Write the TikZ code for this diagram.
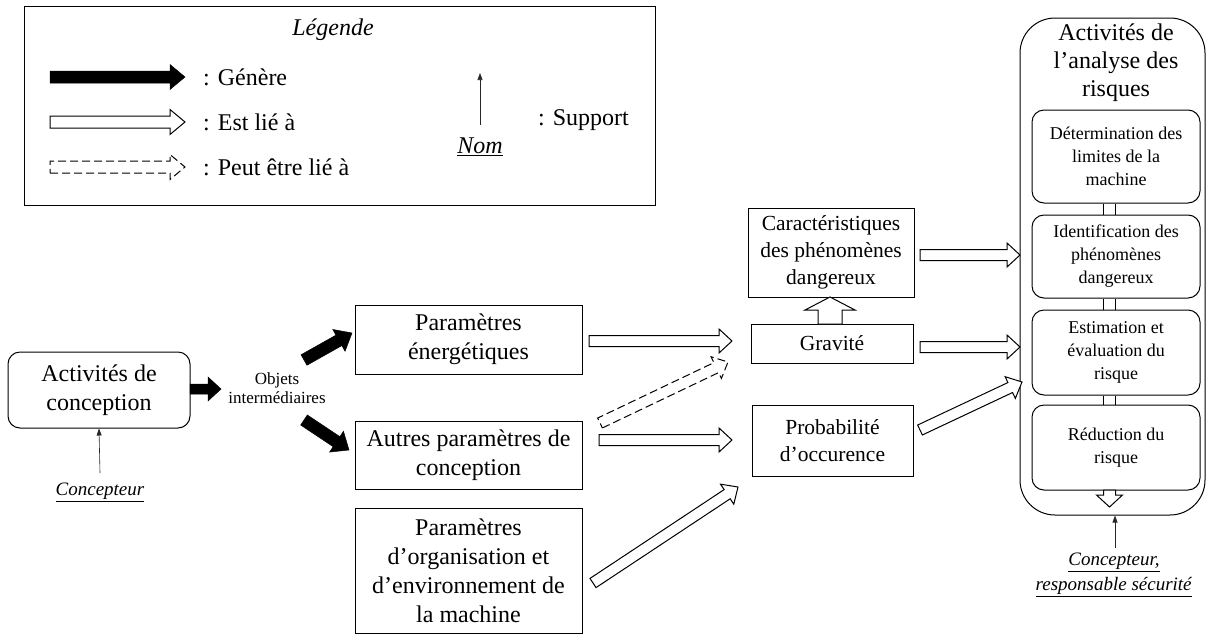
\documentclass[tikz,border=0pt]{standalone}
\usepackage{fontspec}
\setmainfont{Liberation Serif}
\usetikzlibrary{calc,arrows.meta}
\newcommand\fbig{\fontsize{24}{29}\selectfont}
\newcommand\ftitle{\fontsize{24}{28}\selectfont}
\newcommand\fmid{\fontsize{21.5}{27}\selectfont}
\newcommand\fsmall{\fontsize{18}{23}\selectfont}
\newcommand\flab{\fontsize{19}{25}\selectfont}
\newcommand\fobj{\fontsize{17}{19}\selectfont}
% block arrow: [style]{shaft half}{head half}{head length}{from}{to}
\newcommand\blockarrow[6][]{%
  \path (#5) coordinate (bas) (#6) coordinate (bae);
  \pgfpointdiff{\pgfpointanchor{bas}{center}}{\pgfpointanchor{bae}{center}}%
  \pgfgetlastxy\bax\bay
  \pgfmathsetmacro\baang{atan2(\bay,\bax)}%
  \pgfmathsetmacro\balen{veclen(\bax,\bay)}%
  \pgfmathsetmacro\babase{\balen-#4}%
  \begin{scope}[shift={(bas)},rotate=\baang]
    \draw[#1] (0pt,-#2pt) -- (\babase pt,-#2pt) -- (\babase pt,-#3pt) -- (\balen pt,0pt)
      -- (\babase pt,#3pt) -- (\babase pt,#2pt) -- (0pt,#2pt) -- cycle;
  \end{scope}}
\tikzset{
  rbox/.style={draw, line width=1pt, align=center, inner sep=0pt},
  blackarr/.style={fill=black, draw=black, line width=0.5pt, line join=miter},
  whitearr/.style={fill=white, draw=black, line width=1pt, line join=miter},
  dasharr/.style={whitearr, dash pattern=on 8pt off 4pt},
  supp/.style={draw=black!85, line width=0.6pt, -{Triangle[length=7pt,width=5pt]}},
  ulab/.style={font=\flab, align=center, inner sep=0pt},
}
\begin{document}
\begin{tikzpicture}[x=1pt,y=-1pt]
\useasboundingbox (0,0) rectangle (1206,635);

% ---------------- Legend ----------------
\node[rbox, minimum width=631pt, minimum height=199pt] (legend) at (339.5,105.5) {};
\node[font=\fbig] (legtitle) at (333,30) {\textit{Légende}};
\coordinate (l1a) at (50,77);  \coordinate (l1b) at (185,77);
\coordinate (l2a) at (50,122); \coordinate (l2b) at (185,122);
\coordinate (l3a) at (50,167); \coordinate (l3b) at (185,167);
\blockarrow[blackarr]{6}{12.5}{15}{l1a}{l1b}
\blockarrow[whitearr]{6}{12.5}{15}{l2a}{l2b}
\blockarrow[dasharr]{6}{12.5}{15}{l3a}{l3b}
\node[font=\fbig, anchor=west, inner sep=0pt] (lg1) at (203,77) {: Génère};
\node[font=\fbig, anchor=west, inner sep=0pt] (lg2) at (203,122) {: Est lié à};
\node[font=\fbig, anchor=west, inner sep=0pt] (lg3) at (203,167) {: Peut être lié à};
\node[font=\fbig, inner sep=0pt] (nom) at (480,147) {\underline{\textit{Nom}}};
\coordinate (supb) at (480,125); \coordinate (supt) at (480,73);
\draw[supp] (supb) -- (supt);
\node[font=\fbig, anchor=west, inner sep=0pt] (lgs) at (538,120) {: Support};

% ---------------- Left part ----------------
\node[rbox, rounded corners=12pt, minimum width=182pt, minimum height=76pt, font=\fbig] (act) at (99,390) {Activités de\\conception};
\node[ulab] (cpt) at (100,492) {\underline{\textit{Concepteur}}};
\coordinate (cptt) at (100,473);
\draw[supp] (cptt) -- (act.south);
\coordinate (ae) at (190,389); \coordinate (oin) at (221,389);
\blockarrow[blackarr]{5}{12}{13}{ae}{oin}
\node[font=\fobj, align=center, inner sep=0pt] (obj) at (277,388) {Objets\\intermédiaires};
\coordinate (o1s) at (304,360); \coordinate (o1e) at (352,333);
\coordinate (o2s) at (304,420); \coordinate (o2e) at (349,450);
\blockarrow[blackarr]{6}{12.5}{15}{o1s}{o1e}
\blockarrow[blackarr]{6}{12.5}{15}{o2s}{o2e}

\node[rbox, minimum width=227pt, minimum height=69pt, font=\fbig] (pe) at (468.5,339.5) {Paramètres\\énergétiques};
\node[rbox, minimum width=227pt, minimum height=68pt, font=\fbig] (ap) at (468.5,455) {Autres paramètres de\\conception};
\node[rbox, minimum width=227pt, minimum height=125pt, font=\fbig] (po) at (468.5,570.5) {Paramètres\\d’organisation et\\d’environnement de\\la machine};

% ---------------- Middle ----------------
\node[rbox, minimum width=166pt, minimum height=89pt, font=\fmid] (cara) at (831,252.5) {Caractéristiques\\des phénomènes\\dangereux};
\node[rbox, minimum width=162pt, minimum height=39pt, font=\fmid] (grav) at (832,343.5) {Gravité};
\node[rbox, minimum width=161pt, minimum height=71pt, font=\fmid] (prob) at (832.5,440.5) {Probabilité\\d’occurence};

\coordinate (pes) at (589,341); \coordinate (pet) at (732,341);
\blockarrow[whitearr]{5.5}{12}{13}{pes}{pet}
\coordinate (aps) at (599,440); \coordinate (apt) at (732,440);
\blockarrow[whitearr]{5.5}{12}{13}{aps}{apt}
\coordinate (ads) at (600,423); \coordinate (adt) at (728,362);
\blockarrow[dasharr]{5.5}{12}{13}{ads}{adt}
\coordinate (pos) at (593,583); \coordinate (pot) at (738,487);
\blockarrow[whitearr]{5.5}{12}{13}{pos}{pot}
\coordinate (gu) at (830,324); \coordinate (gut) at (830,297);
\blockarrow[whitearr]{12}{25}{13}{gu}{gut}

% ---------------- Right column ----------------
\node[rbox, rounded corners=35pt, minimum width=185pt, minimum height=497pt] (outer) at (1112.5,266.5) {};
\node[font=\ftitle, align=center, inner sep=0pt] (ttl) at (1116,63) {Activités de\\l’analyse des\\risques};
\node[rbox, rounded corners=12pt, minimum width=168pt, minimum height=93pt, font=\fsmall] (b1) at (1116,156.5) {Détermination des\\limites de la\\machine};
\node[rbox, rounded corners=12pt, minimum width=168pt, minimum height=83pt, font=\fsmall] (b2) at (1116,256.5) {Identification des\\phénomènes\\dangereux};
\node[rbox, rounded corners=12pt, minimum width=168pt, minimum height=85pt, font=\fsmall] (b3) at (1116,352.5) {Estimation et\\évaluation du\\risque};
\node[rbox, rounded corners=12pt, minimum width=168pt, minimum height=85pt, font=\fsmall] (b4) at (1116,447.5) {Réduction du\\risque};
\foreach \u/\l in {b1/b2,b2/b3,b3/b4}{
  \draw[line width=1pt] ([xshift=-12.5pt]\u.south) -- ([xshift=-12.5pt]\l.north);
  \draw[line width=1pt] ([xshift=-0.5pt]\u.south) -- ([xshift=-0.5pt]\l.north);
}
\coordinate (b4o) at (1109.5,490); \coordinate (b4t) at (1109.5,507);
\blockarrow[whitearr]{6}{13}{12}{b4o}{b4t}

\coordinate (cas) at (920,255); \coordinate (cat) at (1020,255);
\blockarrow[whitearr]{5.5}{12}{13}{cas}{cat}
\coordinate (grs) at (920,347); \coordinate (grt) at (1020,347);
\blockarrow[whitearr]{5.5}{12}{13}{grs}{grt}
\coordinate (prs) at (920,430); \coordinate (prt) at (1022,382);
\blockarrow[whitearr]{5.5}{12}{13}{prs}{prt}

\node[ulab] (cpt2) at (1114,575) {\underline{\textit{Concepteur,}}\\\underline{\textit{responsable sécurité}}};
\coordinate (c2b) at (1115,548);
\draw[supp] (c2b) -- (c2b |- outer.south);
\end{tikzpicture}
\end{document}
